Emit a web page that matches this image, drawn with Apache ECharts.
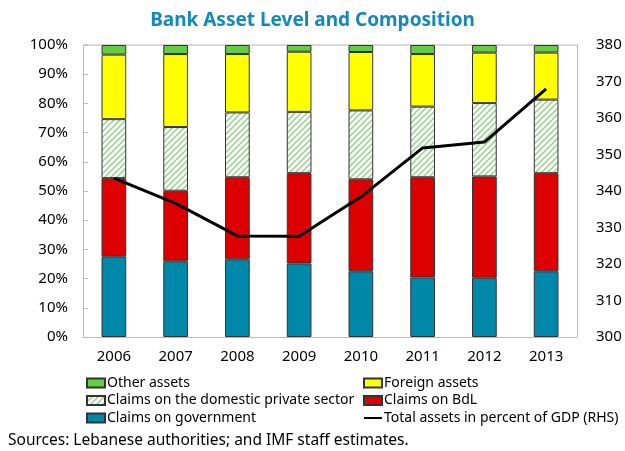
<!DOCTYPE html>
<html>
<head>
<meta charset="UTF-8">
<title>Bank Asset Level and Composition</title>
<script type="text/javascript" src="https://cdn.jsdelivr.net/npm/echarts@6/dist/echarts.min.js"></script>
<style>body{margin:0;background:#fff}</style>
</head>
<body>
<div id="main" style="width:625px;height:451px"></div>

<script type="text/javascript">
var years=['2006','2007','2008','2009','2010','2011','2012','2013'];
// shares of total assets, percent (bottom to top)
var govt=[27.5,25.9,26.6,25.2,22.5,20.4,20.3,22.5];
var bdl=[26.9,24.2,28.1,30.9,31.5,34.3,34.7,33.6];
var privateSector=[20.2,21.8,22.2,21.0,23.6,24.2,25.1,25.2];
var foreign=[22.1,25.0,20.0,20.6,20.0,18.0,17.3,16.1];
var other=[3.3,3.1,3.1,2.3,2.4,3.1,2.6,2.6];
// total assets in percent of GDP (RHS)
var totalGdp=[343.5,336.6,327.7,327.6,338.4,351.8,353.4,368.0];

var fontFam='"Noto Sans", sans-serif';

// hatch fill for private sector claims
var cv=document.createElement('canvas');
cv.width=6;cv.height=6;
var cx=cv.getContext('2d');
cx.fillStyle='#ffffff';cx.fillRect(0,0,6,6);
cx.strokeStyle='#a3d29a';cx.lineWidth=1.6;
cx.beginPath();
cx.moveTo(0,6);cx.lineTo(6,0);
cx.moveTo(-3,3);cx.lineTo(3,-3);
cx.moveTo(3,9);cx.lineTo(9,3);
cx.stroke();
var hatch={image:cv,repeat:'repeat'};

function barSeries(name,data,color){
  return {
    name:name,type:'bar',stack:'a',barWidth:'40%',data:data,
    itemStyle:{color:color,borderColor:'#333',borderWidth:1}
  };
}

var legendText={fontFamily:fontFam,fontSize:14,color:'#000',padding:[0,0,0,-3]};

var mychart=echarts.init(document.getElementById('main'));
var option={
  animation:false,
  textStyle:{fontFamily:fontFam},
  title:{
    text:'Bank Asset Level and Composition',left:'center',top:6,
    textStyle:{fontFamily:fontFam,fontSize:19,fontWeight:'bold',color:'#128ab8'}
  },
  grid:{left:83,right:48,top:45,bottom:114},
  legend:[{
    data:['Other assets','Claims on the domestic private sector','Claims on government'],
    orient:'vertical',left:81,top:371,icon:'rect',itemWidth:18,itemHeight:9,itemGap:3.5,
    textStyle:legendText
  },{
    data:[{name:'Foreign assets',icon:'rect'},{name:'Claims on BdL',icon:'rect'},
      {name:'Total assets in percent of GDP (RHS)',itemStyle:{color:'transparent',borderWidth:0}}],
    orient:'vertical',left:358,top:371,itemWidth:18,itemHeight:9,itemGap:3.5,
    textStyle:legendText
  }],
  xAxis:{
    type:'category',data:years,
    axisLine:{lineStyle:{color:'#bbb'}},
    axisTick:{length:5,lineStyle:{color:'#bbb'}},
    axisLabel:{color:'#000',fontSize:15,margin:12}
  },
  yAxis:[{
    type:'value',min:0,max:100,interval:10,
    axisLine:{show:true,lineStyle:{color:'#bbb'}},
    axisTick:{show:true,inside:true,length:5,lineStyle:{color:'#bbb'}},
    splitLine:{show:false},
    axisLabel:{formatter:'{value}%',color:'#000',fontSize:15,margin:15}
  },{
    type:'value',min:300,max:380,interval:10,
    axisLine:{show:true,lineStyle:{color:'#bbb'}},
    axisTick:{show:false},
    splitLine:{show:false},
    axisLabel:{color:'#000',fontSize:15,margin:19}
  }],
  graphic:[{
    type:'rect',shape:{x:83,y:45,width:494,height:0},
    style:{stroke:'#ccc',lineWidth:1,fill:null}
  },{
    type:'text',left:8,top:433,
    style:{text:'Sources: Lebanese authorities; and IMF staff estimates.',fontFamily:fontFam,fontSize:15.5,fill:'#000'}
  }],
  series:[
    barSeries('Claims on government',govt,'#0088aa'),
    barSeries('Claims on BdL',bdl,'#dd0000'),
    barSeries('Claims on the domestic private sector',privateSector,hatch),
    barSeries('Foreign assets',foreign,'#ffff00'),
    barSeries('Other assets',other,'#66cc44'),
    {
      name:'Total assets in percent of GDP (RHS)',type:'line',yAxisIndex:1,
      data:totalGdp,symbol:'none',
      lineStyle:{color:'#000',width:3},itemStyle:{color:'#000'}
    }
  ]
};
mychart.setOption(option);
</script>
</body>
</html>
